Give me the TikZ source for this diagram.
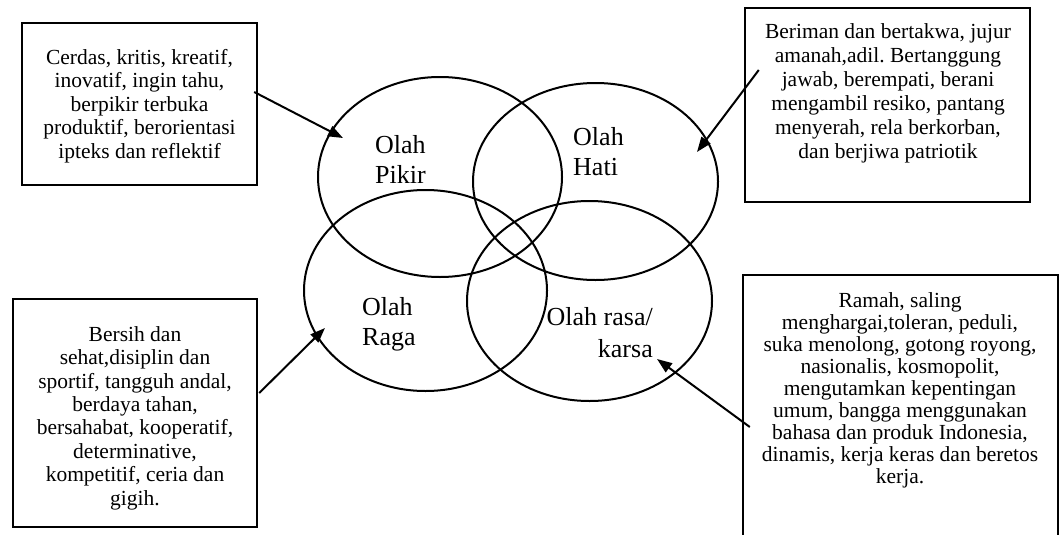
\documentclass[tikz,border=0pt]{standalone}
\usepackage{fontspec}
\setmainfont{Liberation Serif}
\usetikzlibrary{shapes.geometric,arrows.meta,calc}
\frenchspacing
\begin{document}
\begin{tikzpicture}[x=1pt,y=-1pt,
  box/.style={draw, line width=2.4pt, inner sep=0pt},
  btext/.style={align=center, font=\fontsize{21.5}{23.5}\selectfont, inner sep=0pt, anchor=base},
  oval/.style={draw, ellipse, line width=2pt, inner sep=0pt},
  lbl/.style={font=\fontsize{26}{30}\selectfont, inner sep=0pt},
  arr/.style={line width=2pt, -{Triangle[length=15pt,width=11pt]}}]
\fill[white] (0,0) rectangle (1062,535);
\useasboundingbox (0,0) rectangle (1062,535);
% ellipses
\node[oval, minimum width=244pt, minimum height=200pt] (e1) at (440,177) {};
\node[oval, minimum width=245pt, minimum height=197pt] (e2) at (595.5,181.5) {};
\node[oval, minimum width=243pt, minimum height=201pt] (e3) at (425.5,290.5) {};
\node[oval, minimum width=245pt, minimum height=200pt] (e4) at (589.5,301) {};
% ellipse labels (anchor base = baseline of last line)
\node[lbl, align=left, anchor=base west] (l1) at (375,183) {Olah\\Pikir};
\node[lbl, align=left, anchor=base west] (l2) at (573,175) {Olah\\Hati};
\node[lbl, align=left, anchor=base west] (l3) at (362,345) {Olah\\Raga};
\node[lbl, align=right, anchor=base east, font=\fontsize{26}{32}\selectfont] (l4) at (653,357) {Olah rasa/\\karsa};
% boxes
\node[box, minimum width=235pt, minimum height=162pt] (b1) at (139.5,104) {};
\node[btext] (t1) at (139.5,158) {Cerdas, kritis, kreatif,\\ inovatif, ingin tahu,\\ berpikir terbuka\\ produktif, berorientasi\\ ipteks dan reflektif};
\node[box, minimum width=285pt, minimum height=194pt] (b2) at (887.5,105) {};
\node[btext, font=\fontsize{21.5}{24}\selectfont] (t2) at (888,158) {Beriman dan bertakwa, jujur\\ amanah,adil. Bertanggung\\ jawab, berempati, berani\\ mengambil resiko, pantang\\ menyerah, rela berkorban,\\ dan berjiwa patriotik};
\node[box, minimum width=244pt, minimum height=228pt] (b3) at (135,413) {};
\node[btext, font=\fontsize{21.5}{23.4}\selectfont] (t3) at (135,505) {Bersih dan\\ sehat,disiplin dan\\ sportif, tangguh andal,\\ berdaya tahan,\\ bersahabat, kooperatif,\\ determinative,\\ kompetitif, ceria dan\\ gigih.};
\node[inner sep=0pt, minimum width=315pt, minimum height=270pt] (b4) at (900.5,410) {};
\draw[line width=2.4pt] (b4.south west) |- (b4.north east) -- (b4.south east);
\node[btext, font=\fontsize{21.5}{22}\selectfont] (t4) at (900,483) {Ramah, saling\\ menghargai,toleran, peduli,\\ suka menolong, gotong royong,\\ nasionalis, kosmopolit,\\ mengutamkan kepentingan\\ umum, bangga menggunakan\\ bahasa dan produk Indonesia,\\ dinamis, kerja keras dan beretos\\ kerja.};
% arrows
\coordinate (s1) at ($(b1.east)+(-4,-12)$);
\coordinate (s2) at ($(b2.west)+(15,-35)$);
\coordinate (s3) at ($(b3.east)+(1,-20)$);
\coordinate (s4) at ($(b4.west)+(7,17)$);
\coordinate (p1) at (343,138);
\coordinate (p2) at (697,152);
\coordinate (p3) at (325,328);
\coordinate (p4) at (657,359);
\draw[arr] (s1) -- (p1);
\draw[arr] (s2) -- (p2);
\draw[arr] (s3) -- (p3);
\draw[arr] (s4) -- (p4);
\end{tikzpicture}
\end{document}
